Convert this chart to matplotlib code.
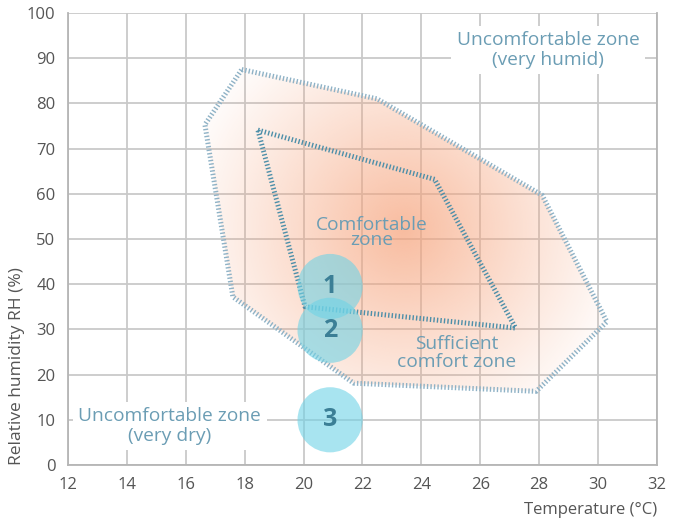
import numpy as np
import matplotlib
matplotlib.use('Agg')
import matplotlib.pyplot as plt
from matplotlib.patches import Polygon

plt.rcParams['font.family'] = ['Open Sans', 'DejaVu Sans']

# sufficient comfort zone (outer) and comfortable zone (inner), temperature / RH
outer_temp = [17.9, 22.5, 28.1, 30.3, 27.9, 21.7, 17.6, 16.65]
outer_rh = [87.5, 81.0, 59.7, 31.7, 16.3, 18.1, 37.2, 75.3]
inner_temp = [18.45, 24.45, 27.2, 20.05]
inner_rh = [74.1, 63.2, 30.3, 35.0]

# numbered measurement points
point_temp = [20.9, 20.9, 20.9]
point_rh = [39.5, 29.8, 10.0]
point_labels = ['1', '2', '3']

# centre of the warm gradient
hot_temp, hot_rh = 23.4, 52.0

x_ticks = list(range(12, 33, 2))
y_ticks = list(range(0, 101, 10))

label_col = '#6b9db4'
tick_col = '#555555'

fig = plt.figure(figsize=(6.77, 5.21), dpi=100)
ax = fig.add_axes([0.1004, 0.1075, 0.8700, 0.8675])
ax.set_xlim(12, 32)
ax.set_ylim(0, 100)
ax.set_xticks(x_ticks)
ax.set_yticks(y_ticks)
ax.grid(True, color='#c9c9c9', linewidth=1.3, zorder=0)
ax.set_axisbelow(True)
for s in ax.spines.values():
    s.set_color('#b5b5b5')
    s.set_linewidth(1.3)
ax.spines['top'].set_visible(False)
ax.tick_params(length=0, pad=9, labelsize=12, labelcolor=tick_col)

# gradient fill clipped to the outer zone
gx, gy = np.meshgrid(np.linspace(12, 32, 400), np.linspace(0, 100, 400))
d = np.hypot((gx - hot_temp) * 29.4, (gy - hot_rh) * 4.52)
alpha = np.clip(1 - d / 240.0, 0, 1) ** 1.1 * 0.72
img = np.zeros(gx.shape + (4,))
img[..., 0] = 246 / 255
img[..., 1] = 162 / 255
img[..., 2] = 122 / 255
img[..., 3] = alpha
outer = Polygon(np.column_stack([outer_temp, outer_rh]), closed=True,
                facecolor='none', edgecolor='none')
ax.add_patch(outer)
im = ax.imshow(img, extent=(12, 32, 0, 100), origin='lower', aspect='auto',
               zorder=1, interpolation='bilinear')
im.set_clip_path(outer)

# hatched borders
ax.plot(outer_temp + outer_temp[:1], outer_rh + outer_rh[:1], color='#8fb2c6',
        linewidth=3.6, dashes=(0.28, 0.42), zorder=2)
ax.plot(inner_temp + inner_temp[:1], inner_rh + inner_rh[:1], color='#4d8fa9',
        linewidth=3.6, dashes=(0.28, 0.42), zorder=3)

# circles
ax.scatter(point_temp, point_rh, s=2200, color='#6fd3e6', alpha=0.6,
           edgecolors='none', zorder=4)
for t, r, lab in zip(point_temp, point_rh, point_labels):
    ax.text(t, r, lab, ha='center', va='center', fontsize=18, fontweight='bold',
            color='#3b7f96', zorder=5)

box = dict(facecolor='white', edgecolor='none', pad=4)
ax.text(28.3, 91.8, 'Uncomfortable zone\n(very humid)', ha='center', va='center',
        fontsize=13.8, color=label_col, linespacing=1.1, bbox=box, zorder=3)
ax.text(15.45, 8.6, 'Uncomfortable zone\n(very dry)', ha='center', va='center',
        fontsize=13.8, color=label_col, linespacing=1.1, bbox=box, zorder=3)
ax.text(22.3, 51.5, 'Comfortable\nzone', ha='center', va='center',
        fontsize=13.8, color=label_col, linespacing=0.8, zorder=5)
ax.text(25.2, 24.8, 'Sufficient\ncomfort zone', ha='center', va='center',
        fontsize=13.8, color=label_col, linespacing=1.05, zorder=5)

ax.set_xlabel('Temperature (°C)', loc='right', fontsize=12, color=tick_col, labelpad=6)
ax.set_ylabel('Relative humidity RH (%)', loc='bottom', fontsize=12.5, color=tick_col,
              labelpad=1)

fig.savefig('out.png', dpi=100)
